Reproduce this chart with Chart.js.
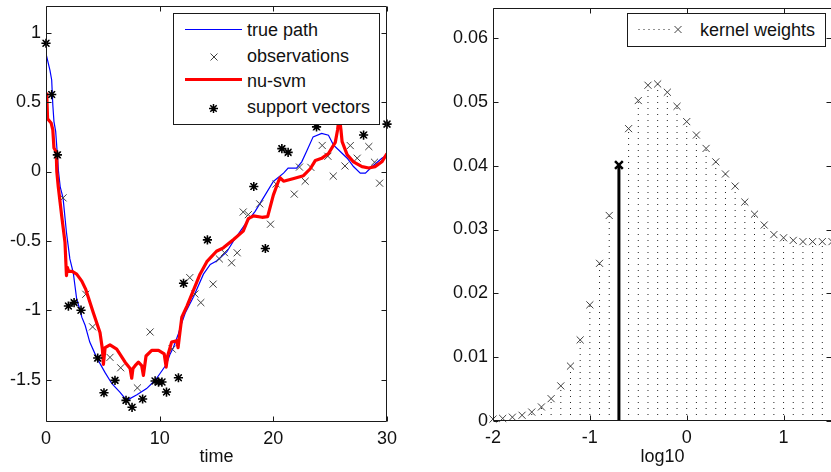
<!DOCTYPE html>
<html><head><meta charset="utf-8">
<script src="https://cdn.jsdelivr.net/npm/chart.js@4.4.0/dist/chart.umd.min.js"></script>
<style>
html,body{margin:0;padding:0;background:#fff;overflow:hidden;width:831px;height:472px;}
#wrap{position:relative;width:831px;height:472px;overflow:hidden;font-family:"Liberation Sans",Arial,sans-serif;background:#fff;}
canvas{position:absolute;top:0;}
.box{position:absolute;background:#fff;border:1px solid #1a1a1a;box-sizing:border-box;}
.lab{position:absolute;font-size:18px;line-height:20px;color:#111;white-space:nowrap;}
.ico{position:absolute;overflow:visible;}
</style></head><body>
<div id="wrap">
<canvas id="c1" width="420" height="472" style="left:0"></canvas>
<canvas id="c2" width="400" height="472" style="left:440px"></canvas>

<div class="box" style="left:173px;top:13px;width:207px;height:112px"></div>
<svg class="ico" style="left:184px;top:24px" width="60" height="10"><path d="M1 5.5 L58 5.5" stroke="#0000ff" stroke-width="1.2" fill="none"/></svg>
<svg class="ico" style="left:209px;top:52px" width="10" height="10"><path d="M1.5 1.5 L8.5 8.5 M8.5 1.5 L1.5 8.5" stroke="#404040" stroke-width="1" fill="none"/></svg>
<div style="position:absolute;left:185px;top:78px;width:57px;height:3px;background:#ff0000"></div>
<svg class="ico" style="left:208px;top:103px" width="11" height="11"><path d="M5.5 1 L5.5 10 M1 5.5 L10 5.5 M2.3 2.3 L8.7 8.7 M8.7 2.3 L2.3 8.7" stroke="#000" stroke-width="1.5" fill="none"/></svg>
<div class="lab" style="left:247px;top:19.8px">true path</div>
<div class="lab" style="left:247px;top:45.5px">observations</div>
<div class="lab" style="left:247px;top:71.3px">nu-svm</div>
<div class="lab" style="left:247px;top:97.1px">support vectors</div>

<div class="box" style="left:627px;top:13px;width:199px;height:34px"></div>
<svg class="ico" style="left:636px;top:24px" width="50" height="11"><path d="M2.5 5.5 L36 5.5" stroke="#222" stroke-width="1" stroke-dasharray="1,4" fill="none"/><path d="M38.5 2 L45.5 9 M45.5 2 L38.5 9" stroke="#404040" stroke-width="1" fill="none"/></svg>
<div class="lab" style="left:700px;top:19.8px">kernel weights</div>
</div>

<script>
// ---------------- data: left panel ----------------
const truePathTime  = [0, 0.35, 0.5, 0.6, 0.7, 0.85, 1.0, 1.1, 1.25, 1.5, 1.8, 2.1, 2.4, 2.7, 3.0, 3.15, 3.45, 3.85, 4.45, 5.2, 5.8, 6.5, 7.1, 8.0, 8.85, 9.6, 10.0, 10.6, 10.9, 11.2, 11.65, 11.95, 12.25, 13.0, 13.85, 14.45, 15.0, 15.9, 16.5, 17.5, 18.4, 19.3, 20.0, 20.9, 21.3, 22.05, 22.5, 22.95, 23.5, 24.25, 24.85, 25.3, 25.75, 26.5, 27.05, 27.65, 28.1, 28.7, 29.55, 30];
const truePathValue = [0.85, 0.73, 0.66, 0.48, 0.36, 0.29, 0.12, 0.0, -0.11, -0.19, -0.44, -0.63, -0.73, -0.92, -1.0, -1.05, -1.11, -1.23, -1.34, -1.45, -1.53, -1.59, -1.65, -1.61, -1.565, -1.505, -1.46, -1.39, -1.32, -1.27, -1.17, -1.09, -1.02, -0.90, -0.74, -0.67, -0.645, -0.58, -0.50, -0.383, -0.287, -0.167, -0.072, -0.012, 0.024, 0.024, 0.07, 0.15, 0.25, 0.275, 0.262, 0.19, 0.155, 0.096, 0.036, -0.012, -0.012, 0.036, 0.096, 0.12];

const svmTime  = [0, 0.08, 0.14, 0.45, 0.6, 0.7, 0.9, 0.95, 1.08, 1.38, 1.67, 1.8, 1.87, 2.0, 2.3, 2.7, 3.15, 3.5, 4.17, 4.75, 4.96, 5.05, 5.2, 5.63, 6.22, 6.96, 7.4, 7.54, 7.65, 7.84, 8.13, 8.42, 8.57, 8.8, 9.3, 9.9, 10.4, 10.57, 10.7, 11.05, 11.5, 11.62, 11.72, 11.95, 12.4, 12.95, 13.55, 14.15, 15.0, 15.6, 16.2, 16.5, 17.35, 17.8, 18.25, 19.0, 19.5, 20.0, 20.45, 20.6, 20.9, 21.8, 22.65, 23.25, 23.7, 24.25, 24.85, 25.45, 25.65, 25.8, 25.95, 26.05, 26.5, 27.05, 27.8, 28.4, 28.95, 29.55, 30];
const svmValue = [0.56, 0.52, 0.38, 0.35, 0.30, 0.17, 0.14, 0.0, -0.11, -0.32, -0.51, -0.75, -0.69, -0.72, -0.72, -0.74, -0.79, -0.85, -1.02, -1.16, -1.28, -1.39, -1.27, -1.25, -1.28, -1.375, -1.42, -1.49, -1.42, -1.40, -1.375, -1.40, -1.47, -1.33, -1.29, -1.29, -1.315, -1.41, -1.33, -1.23, -1.22, -1.27, -1.20, -1.05, -0.97, -0.86, -0.74, -0.65, -0.575, -0.55, -0.51, -0.49, -0.43, -0.34, -0.32, -0.33, -0.325, -0.17, -0.07, -0.045, -0.07, -0.05, -0.03, 0.02, 0.08, 0.095, 0.13, 0.21, 0.30, 0.40, 0.30, 0.215, 0.12, 0.07, 0.035, 0.025, 0.035, 0.07, 0.13];

const obsTime  = [0.0, 0.5, 1.0, 1.5, 1.97, 2.47, 3.08, 3.5, 4.1, 4.55, 5.1, 5.63, 6.07, 6.57, 7.04, 7.57, 8.04, 8.5, 9.16, 9.6, 9.9, 10.2, 10.6, 11.1, 11.65, 12.1, 12.65, 13.1, 13.62, 14.2, 14.7, 15.25, 15.7, 16.33, 16.82, 17.35, 17.8, 18.28, 18.8, 19.3, 19.75, 20.25, 20.75, 21.3, 21.84, 22.3, 22.8, 23.3, 23.8, 24.3, 24.8, 25.27, 25.8, 26.3, 26.77, 27.38, 27.94, 28.4, 28.9, 29.35, 30.0];
const obsValue = [0.925, 0.555, 0.12, -0.19, -0.97, -0.945, -1.0, -0.885, -1.12, -1.345, -1.595, -1.34, -1.506, -1.415, -1.65, -1.70, -1.56, -1.64, -1.157, -1.51, -1.518, -1.518, -1.59, -1.28, -1.487, -0.806, -0.765, -0.883, -0.945, -0.493, -0.812, -0.63, -0.585, -0.658, -0.586, -0.292, -0.311, -0.108, -0.233, -0.555, -0.38, -0.09, 0.165, 0.138, -0.163, 0.032, -0.07, 0.03, 0.322, 0.188, 0.11, -0.033, 0.45, 0.04, 0.187, 0.096, 0.263, 0.18, 0.067, -0.084, 0.342];
const supportVectorIndex = [0, 1, 2, 4, 5, 6, 9, 10, 12, 14, 15, 17, 19, 20, 21, 22, 24, 25, 29, 37, 39, 42, 43, 48, 52, 56, 60];

const leftXTicks = [0, 10, 20, 30];
const leftYTicks = [-1.5, -1, -0.5, 0, 0.5, 1];

// ---------------- data: right panel ----------------
const logGrid = [-2.0, -1.9, -1.8, -1.7, -1.6, -1.5, -1.4, -1.3, -1.2, -1.1, -1.0, -0.9, -0.8, -0.7, -0.6, -0.5, -0.4, -0.3, -0.2, -0.1, 0.0, 0.1, 0.2, 0.3, 0.4, 0.5, 0.6, 0.7, 0.8, 0.9, 1.0, 1.1, 1.2, 1.3, 1.4, 1.5];
const kernelWeights = [0.0003, 0.0004, 0.0006, 0.0009, 0.0014, 0.0022, 0.0035, 0.0055, 0.0086, 0.0127, 0.0182, 0.0247, 0.0322, 0.0401, 0.0458, 0.0502, 0.0526, 0.0528, 0.0515, 0.0493, 0.0469, 0.0448, 0.0427, 0.0406, 0.0387, 0.0368, 0.0343, 0.0324, 0.0307, 0.0292, 0.0287, 0.0283, 0.0281, 0.0281, 0.0281, 0.0281];
const selectedLog = -0.7;
const selectedWeight = 0.0401;

const rightXTicks = [-2, -1, 0, 1];
const rightYTicks = [0, 0.01, 0.02, 0.03, 0.04, 0.05, 0.06];

// ---------------- helpers ----------------
const FONT = {family: '"Liberation Sans", Arial, sans-serif', size: 18};
const TXT = '#111';

const framePlugin = {
  id: 'frame',
  afterDraw(chart) {
    const {ctx, chartArea} = chart;
    const L = Math.round(chartArea.left) + 0.5, R = Math.round(chartArea.right) - 0.5;
    const T = Math.round(chartArea.top) + 0.5, B = Math.round(chartArea.bottom) - 0.5;
    const tl = 5;
    ctx.save();
    ctx.strokeStyle = '#1a1a1a';
    ctx.lineWidth = 1;
    ctx.beginPath();
    ctx.rect(L, T, R - L, B - T);
    const xs = chart.scales.x, ys = chart.scales.y;
    xs.ticks.forEach(t => {
      const p = Math.round(xs.getPixelForValue(t.value)) + 0.5;
      ctx.moveTo(p, B); ctx.lineTo(p, B - tl);
      ctx.moveTo(p, T); ctx.lineTo(p, T + tl);
    });
    ys.ticks.forEach(t => {
      const p = Math.round(ys.getPixelForValue(t.value)) + 0.5;
      ctx.moveTo(L, p); ctx.lineTo(L + tl, p);
      ctx.moveTo(R, p); ctx.lineTo(R - tl, p);
    });
    ctx.stroke();
    ctx.restore();
  }
};

function axis(min, max, ticks, fitSize, horizontal, title) {
  const o = {
    type: 'linear', min, max,
    afterBuildTicks: s => { s.ticks = ticks.map(v => ({value: v})); },
    ticks: {font: FONT, color: TXT, padding: horizontal ? 6 : 5, autoSkip: false, maxRotation: 0,
            callback: v => String(v)},
    grid: {display: false, drawTicks: false},
    border: {display: false},
    afterFit: s => {
      if (horizontal) s.height = fitSize; else s.width = fitSize;
      s.paddingLeft = 0; s.paddingRight = 0; s.paddingTop = 0; s.paddingBottom = 0;
    }
  };
  if (title) o.title = {display: true, text: title, font: FONT, color: TXT, padding: {top: 0, bottom: 4}};
  return o;
}

const common = {
  responsive: false, animation: false, events: [],
  plugins: {legend: {display: false}, tooltip: {enabled: false}}
};

// ---------------- left chart ----------------
const pts = (xs, ys) => xs.map((x, i) => ({x, y: ys[i]}));

new Chart(document.getElementById('c1'), {
  type: 'scatter',
  data: {datasets: [
    {label: 'support vectors', order: 1, clip: false,
     data: supportVectorIndex.map(i => ({x: obsTime[i], y: obsValue[i]})),
     pointStyle: 'star', pointRadius: 4.6, pointBorderWidth: 1.6, borderColor: '#000', backgroundColor: '#000'},
    {label: 'nu-svm', order: 2, showLine: true, data: pts(svmTime, svmValue),
     borderColor: '#ff0000', borderWidth: 3.2, pointRadius: 0, tension: 0, borderJoinStyle: 'round'},
    {label: 'observations', order: 3, clip: false, data: pts(obsTime, obsValue),
     pointStyle: 'crossRot', pointRadius: 5, pointBorderWidth: 1, borderColor: '#404040', backgroundColor: '#404040'},
    {label: 'true path', order: 4, showLine: true, data: pts(truePathTime, truePathValue),
     borderColor: '#0000ff', borderWidth: 1.2, pointRadius: 0, tension: 0}
  ]},
  options: Object.assign({}, common, {
    layout: {padding: {top: 4, right: 33, left: 0, bottom: 0}},
    scales: {
      x: axis(0, 30, leftXTicks, 50, true, 'time'),
      y: axis(-1.806, 1.192, leftYTicks, 46, false)
    }
  }),
  plugins: [framePlugin]
});

// ---------------- right chart ----------------
const stemData = [];
logGrid.forEach((x, i) => {
  stemData.push({x, y: 0}, {x, y: kernelWeights[i]}, {x, y: null});
});

new Chart(document.getElementById('c2'), {
  type: 'scatter',
  data: {datasets: [
    {label: 'selected', order: 1, showLine: true, clip: false,
     data: [{x: selectedLog, y: 0}, {x: selectedLog, y: selectedWeight}],
     borderColor: '#000', borderWidth: 3, pointStyle: 'crossRot', pointRadius: [0, 5.5],
     pointBorderWidth: 2.5, pointBorderColor: '#000', backgroundColor: '#000'},
    {label: 'kernel weights', order: 2, clip: false, data: pts(logGrid, kernelWeights),
     pointStyle: 'crossRot', pointRadius: 5, pointBorderWidth: 1, borderColor: '#404040', backgroundColor: '#404040'},
    {label: 'stems', order: 3, showLine: true, spanGaps: false, data: stemData,
     borderColor: '#222', borderWidth: 1, borderDash: [1, 5], pointRadius: 0, tension: 0}
  ]},
  options: Object.assign({}, common, {
    layout: {padding: {top: 4, right: 7, left: 0, bottom: 0}},
    scales: {
      x: axis(-2, 1.5, rightXTicks, 51, true, 'log10'),
      y: axis(0, 0.0647, rightYTicks, 53, false)
    }
  }),
  plugins: [framePlugin]
});
</script>
</body></html>
